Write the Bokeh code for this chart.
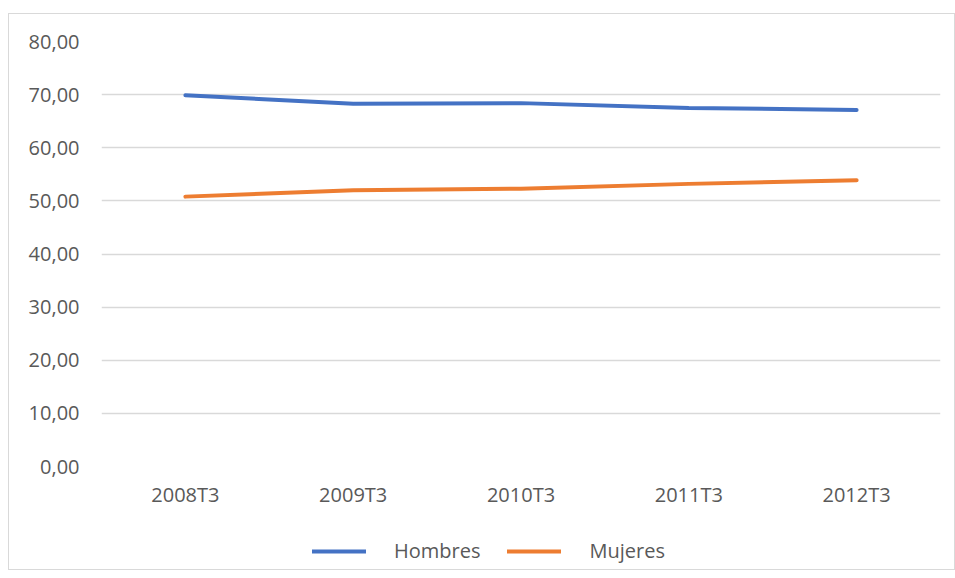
from bokeh.plotting import figure
from bokeh.layouts import column
from bokeh.models import (ColumnDataSource, FactorRange, Range1d, FixedTicker,
                          CustomJSTickFormatter, Legend, LegendItem)
from bokeh.embed import file_html
from bokeh.resources import INLINE

# ---- data ----
periodos = ["2008T3", "2009T3", "2010T3", "2011T3", "2012T3"]
hombres = [69.9, 68.3, 68.4, 67.5, 67.1]
mujeres = [50.8, 52.0, 52.3, 53.2, 53.9]
series_names = ["Hombres", "Mujeres"]
y_ticks = [0, 10, 20, 30, 40, 50, 60, 70, 80]

FONT = "Open Sans"
TXT = "#595959"
COLORS = ["#4472C4", "#ED7D31"]

src = ColumnDataSource(dict(x=periodos, h=hombres, m=mujeres))
xr = FactorRange(*periodos, range_padding=0)

p = figure(x_range=xr, y_range=Range1d(0, 80),
           width=945, height=499,
           output_backend="svg", toolbar_location=None,
           min_border_left=92, min_border_right=14,
           min_border_top=27, min_border_bottom=47)
p.outline_line_color = None
p.background_fill_color = "white"
p.border_fill_color = "white"

for col, c in zip(["h", "m"], COLORS):
    p.line("x", col, source=src, line_color=c, line_width=4, line_cap="round")

p.yaxis.ticker = FixedTicker(ticks=y_ticks)
p.yaxis.formatter = CustomJSTickFormatter(code="return tick.toFixed(2).replace('.', ',');")
for ax in (p.xaxis[0], p.yaxis[0]):
    ax.axis_line_color = None
    ax.major_tick_line_color = None
    ax.minor_tick_line_color = None
    ax.major_label_text_font = FONT
    ax.major_label_text_font_size = "20px"
    ax.major_label_text_color = TXT
p.yaxis.major_label_standoff = 16
p.xaxis.major_label_standoff = 8

p.xgrid.grid_line_color = None
p.ygrid.ticker = FixedTicker(ticks=y_ticks)
p.ygrid.grid_line_color = "#d9d9d9"
p.ygrid.grid_line_width = 1.5

# legend strip below the chart (same series, viewed out of range so only the legend shows)
pl = figure(width=945, height=56, x_range=xr, y_range=Range1d(1000, 1001),
            output_backend="svg", toolbar_location=None,
            min_border_left=0, min_border_right=0,
            min_border_top=0, min_border_bottom=0)
pl.axis.visible = False
pl.grid.visible = False
pl.outline_line_color = None
items = []
for name, col, c in zip(series_names, ["h", "m"], COLORS):
    r = pl.line("x", col, source=src, line_color=c, line_width=4, line_cap="round")
    items.append(LegendItem(label=name, renderers=[r]))
legend = Legend(items=items, orientation="horizontal", location=(211, 5),
                glyph_width=54, glyph_height=20, label_standoff=28, spacing=27,
                label_text_font=FONT, label_text_font_size="20px",
                label_text_color=TXT, border_line_color=None,
                background_fill_alpha=0, padding=0, margin=0)
pl.add_layout(legend, "center")

layout = column(p, pl, spacing=0,
                styles={"border": "1px solid #d9d9d9",
                        "margin-left": "8px", "margin-top": "13px"})

open("out.html", "w").write(file_html(layout, INLINE))
